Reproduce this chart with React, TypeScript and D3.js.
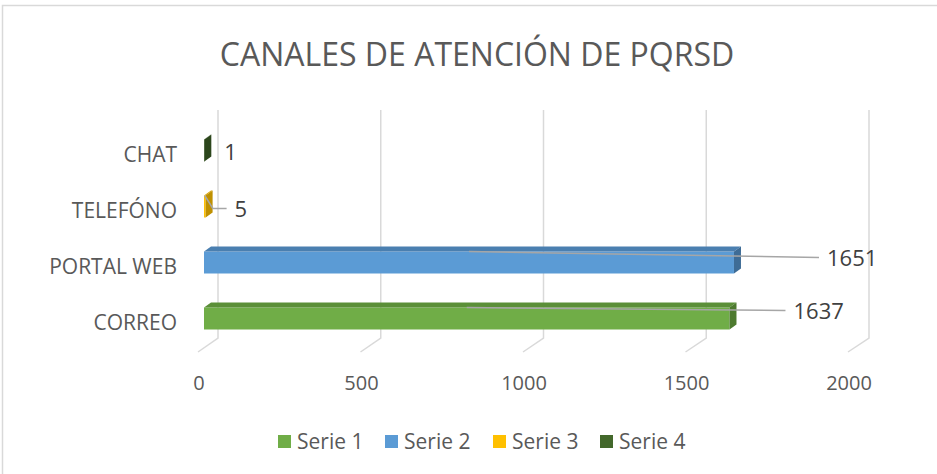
import * as d3 from "d3";

// categories bottom to top, as Excel draws them
const categories = ["CORREO", "PORTAL WEB", "TELEFÓNO", "CHAT"];
const seriesNames = ["Serie 1", "Serie 2", "Serie 3", "Serie 4"];
// one value per category for each series (0 = empty)
const serie1 = [1637, 0, 0, 0];
const serie2 = [0, 1651, 0, 0];
const serie3 = [0, 0, 5, 0];
const serie4 = [0, 0, 0, 1];
const ticks = [0, 500, 1000, 1500, 2000];

const seriesValues = [serie1, serie2, serie3, serie4];
const colors = [
  { front: "#70ad47", top: "#5b8f38", side: "#4d7a2f" },
  { front: "#5b9bd5", top: "#4a7fb0", side: "#3e6c96" },
  { front: "#ffc000", top: "#d9a300", side: "#bf9000" },
  { front: "#43682b", top: "#375623", side: "#2c461c" },
];

// hand-placed data labels (px offsets from the bar end / bar centre)
const labelDx = [64, 93, 29, 20];
const labelDy = [-8, -5, 2, 1];
const leader = [true, true, true, false];

const W = 937;
const H = 474;
const font = "'Open Sans', sans-serif";

export default function App() {
  const xBack = d3.scaleLinear().domain([0, 2000]).range([218, 869]);
  const xFloor = d3.scaleLinear().domain([0, 2000]).range([198, 848]);
  const xBar = d3.scaleLinear().domain([0, 2000]).range([204, 846]);
  const y = d3.scaleBand().domain(categories).range([351, 127]);

  const wallTop = 110;
  const wallBottom = 338;
  const depthX = 7;
  const depthY = 5;
  const barH = 22;

  const bars: any[] = [];
  seriesValues.forEach((vals, si) => {
    vals.forEach((v, ci) => {
      if (!v) return;
      const cy = (y(categories[ci]) as number) + y.bandwidth() / 2;
      bars.push({ si, ci, v, cy });
    });
  });

  return (
    <svg
      width={W}
      height={H}
      style={{ position: "absolute", left: 0, top: 0, background: "#fff" }}
      fontFamily={font}
    >
      <rect x={2.5} y={5.5} width={W + 20} height={H + 20} fill="#fff" stroke="#d9d9d9" strokeWidth={1.5} />

      <text x={477} y={66} textAnchor="middle" fontSize={32} fill="#595959">
        CANALES DE ATENCIÓN DE PQRSD
      </text>

      {/* back wall gridlines and floor ticks */}
      {ticks.map((t) => (
        <g key={t}>
          <polyline
            points={`${xBack(t)},${wallTop} ${xBack(t)},${wallBottom} ${xFloor(t)},${wallBottom + 14}`}
            fill="none"
            stroke="#d9d9d9"
            strokeWidth={1.5}
          />
          <text x={xFloor(t) + 1} y={390} textAnchor="middle" fontSize={20} fill="#595959">
            {t}
          </text>
        </g>
      ))}

      {/* category labels */}
      {categories.map((c) => (
        <text
          key={c}
          x={177}
          y={(y(c) as number) + y.bandwidth() / 2 + 7}
          textAnchor="end"
          fontSize={21}
          fill="#595959"
        >
          {c}
        </text>
      ))}

      {/* 3D bars */}
      {bars.map((b) => {
        const c = colors[b.si];
        const x0 = xBar(0);
        const x1 = xBar(b.v);
        const top = b.cy - 4.5 - barH / 2;
        const bot = top + barH;
        return (
          <g key={`${b.si}-${b.ci}`}>
            <rect x={x0} y={top} width={Math.max(x1 - x0, 0.5)} height={barH} fill={c.front} />
            <polygon
              points={`${x0},${top} ${x0 + depthX},${top - depthY} ${x1 + depthX},${top - depthY} ${x1},${top}`}
              fill={c.top}
            />
            <polygon
              points={`${x1},${top} ${x1 + depthX},${top - depthY} ${x1 + depthX},${bot - depthY} ${x1},${bot}`}
              fill={c.side}
            />
          </g>
        );
      })}

      {/* data labels with leader lines */}
      {bars.map((b) => {
        const x1 = xBar(b.v);
        const top = b.cy - 4.5 - barH / 2;
        const tx = x1 + labelDx[b.si];
        const ty = b.cy - 4.5 + labelDy[b.si];
        const sx = xBar(b.v / 2);
        let path = "";
        if (leader[b.si]) {
          if (b.v > 100) path = `M${sx},${top} L${tx - 8},${ty}`;
          else path = `M${sx},${top} L${sx + 8},${ty} L${tx - 8},${ty}`;
        }
        return (
          <g key={`l-${b.si}`}>
            {path && <path d={path} fill="none" stroke="#a6a6a6" strokeWidth={1.5} />}
            <text x={tx} y={ty + 8} fontSize={22} fill="#404040">
              {b.v}
            </text>
          </g>
        );
      })}

      {/* legend */}
      {seriesNames.map((s, i) => {
        const lx = [278, 385, 493, 600][i];
        return (
          <g key={s}>
            <rect x={lx} y={435} width={13} height={13} fill={colors[i].front} />
            <text x={lx + 19} y={449} fontSize={21} fill="#595959">
              {s}
            </text>
          </g>
        );
      })}
    </svg>
  );
}
